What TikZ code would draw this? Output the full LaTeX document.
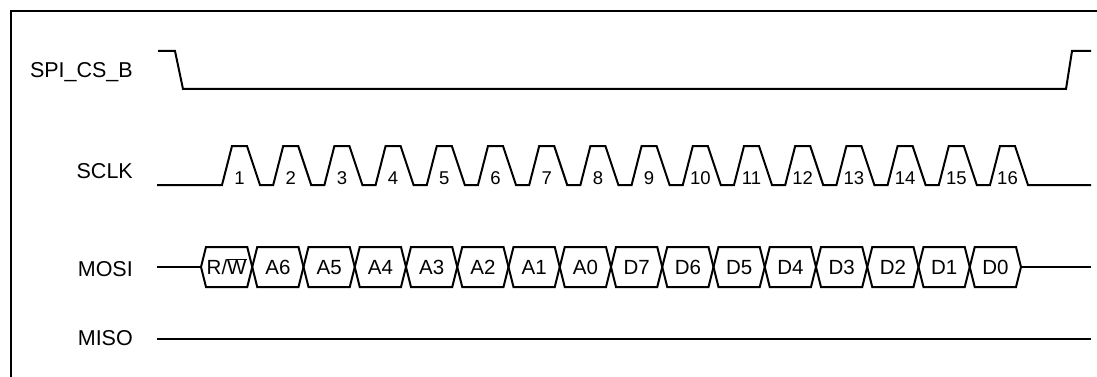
\documentclass[tikz,border=0pt]{standalone}
\usepackage{fontspec}
\setmainfont{Liberation Sans}
\begin{document}
\begin{tikzpicture}[x=1pt,y=-1pt,
  sig/.style={line width=2pt, line join=miter},
  frameline/.style={line width=2.6pt},
  lab/.style={font=\fontsize{21.5}{25}\selectfont, anchor=base east, inner sep=0pt},
  num/.style={font=\fontsize{18.5}{22}\selectfont, anchor=base, inner sep=0pt},
  celltext/.style={font=\fontsize{20.5}{24}\selectfont, anchor=base, inner sep=0pt}]
\useasboundingbox (0,0) rectangle (1097,377);
% frame
\draw[frameline] (11,377) -- (11,11) -- (1097,11);
% labels
\node[lab] (cs)   at (133,78)  {SPI\_CS\_B};
\node[lab] (sclk) at (133,178) {SCLK};
\node[lab] (mosi) at (133,276) {MOSI};
\node[lab] (miso) at (133,345) {MISO};
% SPI_CS_B
\coordinate (csa) at (158,51);
\coordinate (csb) at (1091,51);
\draw[sig] (csa) -- (175,51) -- (183,89) -- (1066,89) -- (1072,51) -- (csb);
% SCLK
\coordinate (clka) at (157,185);
\coordinate (clkb) at (1091,185);
\draw[sig] (clka) \foreach \k in {0,...,15} {
  -- ({222+51.2*\k},185) -- ({232+51.2*\k},146) -- ({247+51.2*\k},146) -- ({260+51.2*\k},185) } -- (clkb);
\foreach \k [evaluate=\k as \n using int(\k+1)] in {0,...,15}
  \node[num] (n\n) at ({239.5+51.2*\k},184) {\n};
% MOSI
\coordinate (mosia) at (157,267);
\coordinate (mosib) at (1091,267);
\draw[sig] (mosia) -- (201,267);
\draw[sig] (1021,267) -- (mosib);
\foreach \t [count=\i from 0] in {R/$\overline{\mbox{W}}$,A6,A5,A4,A3,A2,A1,A0,D7,D6,D5,D4,D3,D2,D1,D0} {
  \pgfmathsetmacro{\ca}{201+51.25*\i}
  \pgfmathsetmacro{\cb}{201+51.25*(\i+1)}
  \draw[sig] (\ca,267) -- (\ca+5,247) -- (\cb-5,247) -- (\cb,267) -- (\cb-5,287) -- (\ca+5,287) -- cycle;
  \node[celltext] (c\i) at ({(\ca+\cb)/2},274.5) {\t};
}
% MISO
\coordinate (misoa) at (157,339);
\coordinate (misob) at (1091,339);
\draw[sig] (misoa) -- (misob);
\end{tikzpicture}
\end{document}
